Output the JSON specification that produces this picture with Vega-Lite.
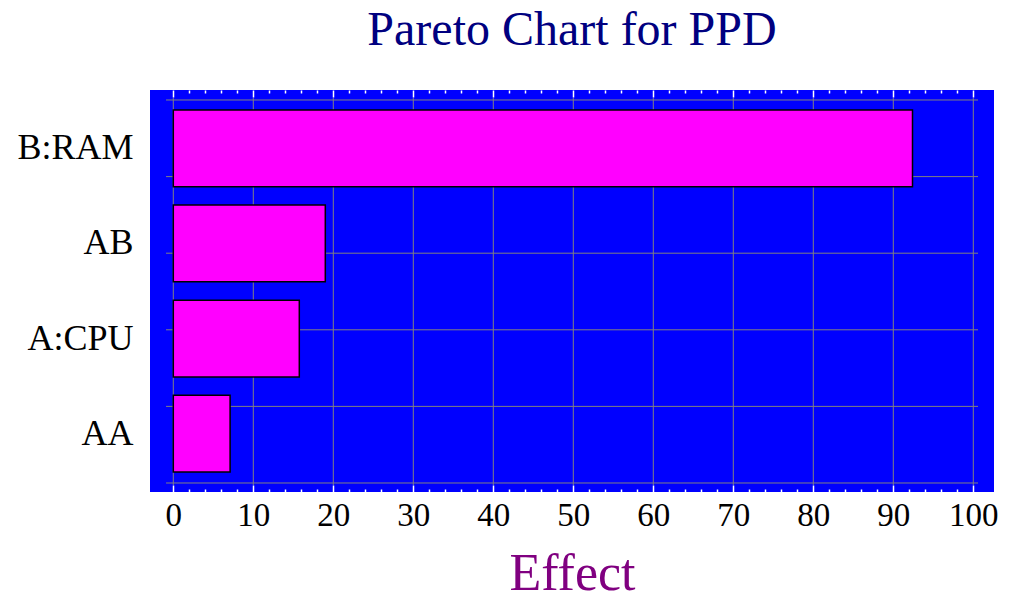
{
  "$schema": "https://vega.github.io/schema/vega-lite/v6.json",
  "description": "Pareto chart for PPD",
  "autosize": "none",
  "width": 844,
  "height": 402,
  "padding": {"left": 150, "top": 90, "right": 22, "bottom": 118},
  "background": "white",
  "view": {"fill": "#0000FF", "stroke": null},
  "config": {"font": "Liberation Serif"},
  "title": {
    "text": "Pareto Chart for PPD",
    "font": "Liberation Serif",
    "fontSize": 48,
    "fontWeight": "normal",
    "color": "#000080",
    "anchor": "middle",
    "offset": 34
  },
  "layer": [
    {
      "data": {"values": [{"v": 0}, {"v": 10}, {"v": 20}, {"v": 30}, {"v": 40}, {"v": 50}, {"v": 60}, {"v": 70}, {"v": 80}, {"v": 90}, {"v": 100}]},
      "mark": {"type": "rule", "color": "#808080", "strokeWidth": 1},
      "encoding": {
        "x": {
          "field": "v",
          "type": "quantitative",
          "scale": {"domain": [-2.9125, 102.5875], "nice": false, "zero": false},
          "axis": {
            "orient": "top",
            "values": [0, 2, 4, 6, 8, 10, 12, 14, 16, 18, 20, 22, 24, 26, 28, 30, 32, 34, 36, 38, 40, 42, 44, 46, 48, 50, 52, 54, 56, 58, 60, 62, 64, 66, 68, 70, 72, 74, 76, 78, 80, 82, 84, 86, 88, 90, 92, 94, 96, 98, 100],
            "labels": false,
            "domain": false,
            "grid": false,
            "title": null,
            "tickColor": "white",
            "tickWidth": 1.5,
            "tickSize": {"condition": {"test": "datum.value % 10 === 0", "value": -7}, "value": -3}
          }
        },
        "y": {
          "datum": -0.026,
          "type": "quantitative",
          "scale": {"domain": [-0.1175, 5.1305], "nice": false, "zero": false},
          "axis": null
        },
        "y2": {"datum": 5.026}
      }
    },
    {
      "data": {"values": [{"h": 0}, {"h": 1}, {"h": 2}, {"h": 3}, {"h": 4}, {"h": 5}]},
      "mark": {"type": "rule", "color": "#808080", "strokeWidth": 1},
      "encoding": {
        "y": {
          "field": "h",
          "type": "quantitative",
          "scale": {"domain": [-0.1175, 5.1305], "nice": false, "zero": false},
          "axis": null
        },
        "x": {"datum": -0.91, "type": "quantitative", "axis": null},
        "x2": {"datum": 100.59}
      }
    },
    {
      "data": {
        "values": [
          {"factor": "B:RAM", "effect": 92.4},
          {"factor": "AB", "effect": 19.0},
          {"factor": "A:CPU", "effect": 15.75},
          {"factor": "AA", "effect": 7.1}
        ]
      },
      "mark": {"type": "bar", "color": "#FF00FF", "stroke": "black", "strokeWidth": 1.5},
      "encoding": {
        "y": {
          "field": "factor",
          "type": "nominal",
          "sort": ["B:RAM", "AB", "A:CPU", "AA"],
          "scale": {"paddingInner": 0.192, "paddingOuter": 0.21},
          "axis": {
            "title": null,
            "ticks": false,
            "domain": false,
            "grid": false,
            "labelFont": "Liberation Serif",
            "labelFontSize": 36,
            "labelColor": "black",
            "labelPadding": 17,
            "labelLimit": 0
          }
        },
        "x": {
          "field": "effect",
          "type": "quantitative",
          "axis": {
            "orient": "bottom",
            "values": [0, 2, 4, 6, 8, 10, 12, 14, 16, 18, 20, 22, 24, 26, 28, 30, 32, 34, 36, 38, 40, 42, 44, 46, 48, 50, 52, 54, 56, 58, 60, 62, 64, 66, 68, 70, 72, 74, 76, 78, 80, 82, 84, 86, 88, 90, 92, 94, 96, 98, 100],
            "labelExpr": "datum.value % 10 === 0 ? datum.label : ''",
            "labelFlush": false,
            "labelOverlap": false,
            "labelBound": false,
            "labelFont": "Liberation Serif",
            "labelFontSize": 33,
            "labelColor": "black",
            "labelPadding": 14,
            "domain": false,
            "grid": false,
            "tickColor": "white",
            "tickWidth": 1.5,
            "tickSize": {"condition": {"test": "datum.value % 10 === 0", "value": -7}, "value": -3},
            "title": "Effect",
            "titleFont": "Liberation Serif",
            "titleFontSize": 52,
            "titleFontWeight": "normal",
            "titleColor": "#800080",
            "titlePadding": 12
          }
        }
      }
    }
  ],
  "resolve": {"scale": {"y": "independent"}, "axis": {"x": "independent"}}
}
